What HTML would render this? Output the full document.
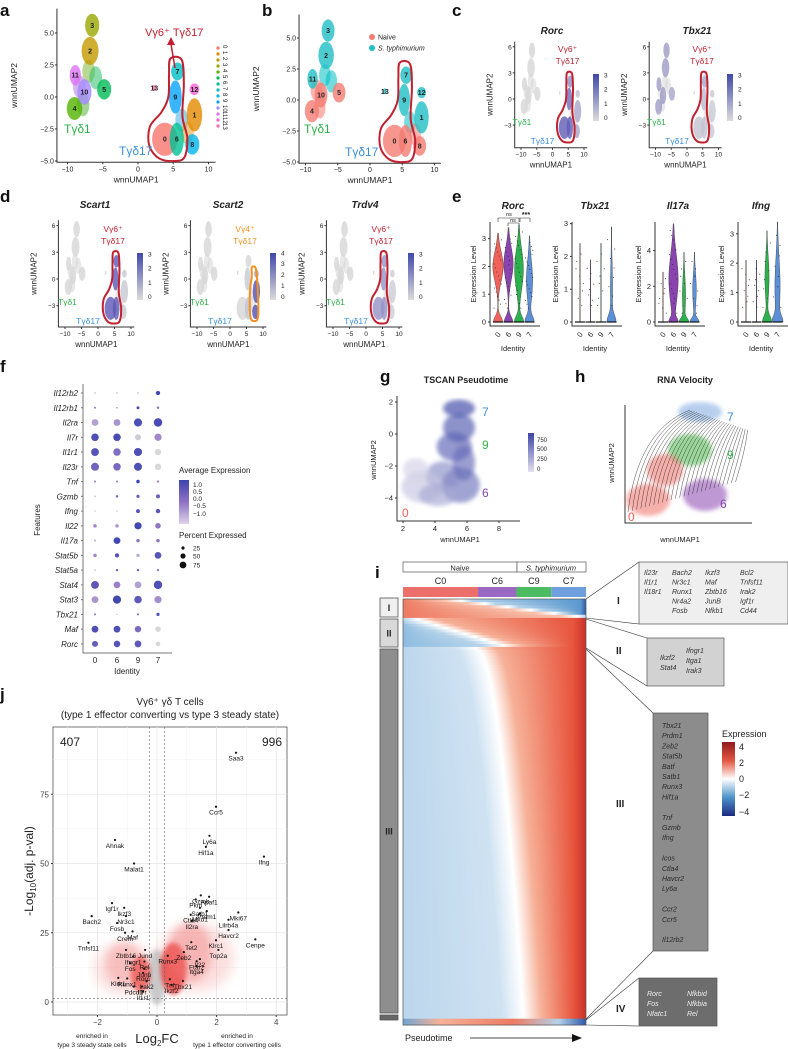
<!DOCTYPE html>
<html><head><meta charset="utf-8"><style>
body{margin:0;background:#fff}
svg{display:block;font-family:"Liberation Sans",Arial,sans-serif}
.it{font-style:italic}
</style></head><body>
<svg id="fig" width="788" height="1049" viewBox="0 0 788 1049" xmlns="http://www.w3.org/2000/svg">
<defs>
<linearGradient id="featGrad" x1="0" y1="1" x2="0" y2="0"><stop offset="0" stop-color="#dcdcdc"/><stop offset="1" stop-color="#3f48a8"/></linearGradient>
<linearGradient id="avgGrad" x1="0" y1="1" x2="0" y2="0"><stop offset="0" stop-color="#ddd3ea"/><stop offset="0.5" stop-color="#8f72c4"/><stop offset="1" stop-color="#3c45ad"/></linearGradient>
<linearGradient id="ptGrad" x1="0" y1="1" x2="0" y2="0"><stop offset="0" stop-color="#e4e0ee"/><stop offset="1" stop-color="#3b45a6"/></linearGradient>
<linearGradient id="expGrad" x1="0" y1="0" x2="0" y2="1"><stop offset="0" stop-color="#8e1b1e"/><stop offset="0.25" stop-color="#e4553f"/><stop offset="0.5" stop-color="#ffffff"/><stop offset="0.75" stop-color="#4d93c9"/><stop offset="1" stop-color="#1d2a80"/></linearGradient>
<filter id="blur2"><feGaussianBlur stdDeviation="2"/></filter>
<filter id="blur4"><feGaussianBlur stdDeviation="4"/></filter>
<filter id="blur6"><feGaussianBlur stdDeviation="6"/></filter>
</defs>
<g id="root"></g>
</svg>
<script>
const NS='http://www.w3.org/2000/svg';
const root=document.getElementById('root');
function el(tag,parent,attrs){const e=document.createElementNS(NS,tag);for(const k in attrs)e.setAttribute(k,attrs[k]);parent.appendChild(e);return e;}
function tx(parent,x,y,s,size,extra){const e=el('text',parent,Object.assign({x:x,y:y,'font-size':size,fill:'#222'},extra||{}));e.textContent=s;return e;}

// ---------------- UMAP data ----------------
const clusterIds=[0,1,2,3,4,5,6,7,8,9,10,11,12,13];
const clusterX=[3.8,8.0,-6.8,-6.5,-9.0,-4.8,5.5,5.6,7.7,5.3,-7.6,-8.9,8.0,2.3];
const clusterY=[-3.3,-1.4,3.6,5.6,-0.9,0.6,-3.3,2.0,-3.7,0.0,0.4,1.7,0.6,0.7];
const clusterRX=[1.8,1.1,1.2,1.0,1.1,1.0,1.0,0.9,1.0,0.9,1.0,0.8,0.7,0.25];
const clusterRY=[1.3,1.3,1.1,0.9,0.9,0.8,1.3,0.7,0.8,1.3,1.0,0.8,0.45,0.25];
const clusterColors=['#F8766D','#E38900','#C49A00','#99A800','#53B400','#00BC56','#00C094','#00BFC4','#00B6EB','#06A4FF','#A58AFF','#DF70F8','#FB61D7','#FF66A8'];
const clusterCond=[0,1,1,1,0,0,0,1,0,1,0,1,1,1];
const featRorc=[2.5,1.0,0,0,0,0,2.5,1.5,1.0,2.2,0,0,0.5,0];
const featTbx21=[0.4,0.3,1.2,1.2,1.2,1.0,0.4,1.0,0.3,0.6,1.2,1.2,0.3,0];
const featScart1=[2.6,0.3,0,0,0,0,2.6,2.6,0.3,2.6,0,0,0.3,0];
const featScart2=[0,2.8,0,0,0,0,0.4,0,2.8,0.3,0,0,1.2,0];
const featTrdv4=[1.4,0.2,0,0,0,0,1.4,1.4,0.2,1.4,0,0,0.2,0];
const vg6X=[4.6,6.2,6.5,6.3,7.0,6.6,5.2,3.0,1.6,1.7,3.3,4.3,4.4];
const vg6Y=[3.0,2.9,1.0,-1.5,-3.2,-4.7,-5.0,-4.8,-3.8,-2.3,-1.2,0.0,1.8];
const vg4X=[6.6,7.8,8.3,8.6,8.2,6.5,6.0,6.1,6.6];
const vg4Y=[1.3,1.2,-0.5,-3.5,-4.6,-4.6,-3.5,-1.2,0.3];
const bridgeX=[-7.0,-8.3,-6.0,-7.8,6.2,7.0];
const bridgeY=[2.0,0.8,1.5,-0.6,-1.8,-2.8];

function lerpColor(a,b,t){const pa=[1,3,5].map(i=>parseInt(a.substr(i,2),16)),pb=[1,3,5].map(i=>parseInt(b.substr(i,2),16));return 'rgb('+pa.map((v,i)=>Math.round(v+(pb[i]-v)*t)).join(',')+')';}
function smoothPath(pts){let d='';const n=pts.length;for(let i=0;i<n;i++){const p0=pts[(i-1+n)%n],p1=pts[i],p2=pts[(i+1)%n],p3=pts[(i+2)%n];if(i===0)d+='M'+p1[0]+','+p1[1];const c1=[p1[0]+(p2[0]-p0[0])/6,p1[1]+(p2[1]-p0[1])/6],c2=[p2[0]-(p3[0]-p1[0])/6,p2[1]-(p3[1]-p1[1])/6];d+='C'+c1+' '+c2+' '+p2;}return d+'Z';}

function drawUmap(cfg){
  const g=el('g',root,{});
  
  
  const X=v=>cfg.x0+v*cfg.sx, Y=v=>cfg.y0-v*cfg.sy;
  const axL=X(cfg.xmin), axB=Y(cfg.ymin), axT=Y(cfg.ymax);
  const ax=el('path',g,{d:`M${axL},${axT}V${axB}H${X(cfg.xmax)}`,stroke:'#333','stroke-width':1,fill:'none'});
  
  cfg.xt.forEach(v=>{el('line',g,{x1:X(v),x2:X(v),y1:axB,y2:axB+2,stroke:'#333'});tx(g,X(v),axB+9,String(v).replace('-','−'),cfg.fs,{'text-anchor':'middle'});});
  cfg.yt.forEach(v=>{el('line',g,{x1:axL-2,x2:axL,y1:Y(v),y2:Y(v),stroke:'#333'});tx(g,axL-3,Y(v)+2.5,(cfg.dec?v.toFixed(1):String(v)).replace('-','−'),cfg.fs,{'text-anchor':'end'});});
  const xl=tx(g,(axL+X(cfg.xmax))/2,axB+20,'wnnUMAP1',cfg.fs+1.5,{'text-anchor':'middle'});
  
  const yl=tx(g,0,0,'wnnUMAP2',cfg.fs+1.5,{'text-anchor':'middle',transform:`translate(${axL-cfg.ylo},${(axT+axB)/2}) rotate(-90)`});
  
  bridgeX.forEach((bx,i)=>{let c=cfg.mode==='cluster'?['#7fb83a','#b07ad8','#2fbf6a','#5bb33c','#3fb0e0','#e39a30'][i]:cfg.mode==='cond'?(i%2?'#F8766D':'#00BFC4'):'#d6d6d6';
    el('ellipse',g,{cx:X(bx),cy:Y(bridgeY[i]),rx:0.9*cfg.sx,ry:0.9*cfg.sy,fill:c,opacity:0.55});});
  clusterIds.forEach(i=>{
    let c;
    if(cfg.mode==='cluster')c=clusterColors[i];
    else if(cfg.mode==='cond')c=clusterCond[i]?'#1fbfc4':'#f47c72';
    else c=lerpColor('#d6d6d6','#4b45b0',Math.min(1,cfg.feat[i]/3));
    const e=el('ellipse',g,{cx:X(clusterX[i]),cy:Y(clusterY[i]),rx:clusterRX[i]*cfg.sx,ry:clusterRY[i]*cfg.sy,fill:c,opacity:0.8});
    
    
    if(cfg.nums){tx(g,X(clusterX[i]),Y(clusterY[i])+2.5,String(i),7,{'text-anchor':'middle','font-weight':'bold'});}
  });
  if(cfg.outline){const ox=cfg.outline==='vg4'?vg4X:vg6X, oy=cfg.outline==='vg4'?vg4Y:vg6Y;
    const p=el('path',g,{d:smoothPath(ox.map((v,i)=>[X(v),Y(oy[i])])),fill:'none',stroke:cfg.outline==='vg4'?'#f39220':'#c0202f','stroke-width':2});
    }
  return {g,X,Y};
}
function featLegend(x,y,h,labels){
  const g=el('g',root,{});
  
  el('rect',g,{x:x,y:y,width:6,height:h,fill:'url(#featGrad)'});
  labels.forEach((l,i)=>tx(g,x+11,y+h-i*h/(labels.length-0.7)-1,String(l),6.5));
}
function popLabels(u,x0,y0,top1,top2,topColor){
  const g=u.g;
  tx(g,x0+15,y0-47,top1,8.5,{'text-anchor':'middle',fill:topColor});
  tx(g,x0+15,y0-35,top2,8.5,{'text-anchor':'middle',fill:topColor});
  tx(g,x0-40,y0+26,'Tγδ1',8.5,{fill:'#2db34a'});
  tx(g,x0-10,y0+45,'Tγδ17',8.5,{'text-anchor':'middle',fill:'#3a8fd8'});
}

[['a',0,16],['b',262,16],['c',452,16],['d',0,202],['e',452,202],['f',0,372],['g',380,382],['h',575,382],['i',375,578],['j',0,700]].forEach(p=>{
  const t=tx(root,p[1],p[2],p[0],17,{'font-weight':'bold',fill:'#111'});
  
});

// Panel a
const ua=drawUmap({name:'umap-clusters',mode:'cluster',x0:138,sx:7.05,y0:97,sy:12.8,xmin:-11.5,xmax:11,ymin:-5.1,ymax:6.9,xt:[-10,-5,0,5,10],yt:[-5,-2.5,0,2.5,5],dec:true,fs:7,ylo:40,nums:true,outline:'vg6'});
tx(ua.g,64,133,'Tγδ1',12,{fill:'#2db34a'});
tx(ua.g,119,155,'Tγδ17',12,{fill:'#3a8fd8'});
tx(ua.g,145,36,'Vγ6⁺ Tγδ17',11,{fill:'#c0202f'});
el('line',ua.g,{x1:175,y1:68,x2:171,y2:44,stroke:'#c0202f','stroke-width':1.5});
el('path',ua.g,{d:'M167,45 L171,37 L175,45Z',fill:'#c0202f'});
clusterIds.forEach(i=>{el('circle',ua.g,{cx:218,cy:48+i*6,r:1.6,fill:clusterColors[i]});tx(ua.g,222,50+i*6,String(i),6,{transform:`rotate(90 225 ${48+i*6})`});});

// Panel b
const ub=drawUmap({name:'umap-condition',mode:'cond',x0:370,sx:6.45,y0:100,sy:12.4,xmin:-11,xmax:11,ymin:-5.1,ymax:6.9,xt:[-10,-5,0,5,10],yt:[-5,-2.5,0,2.5,5],dec:true,fs:7,ylo:40,nums:true,outline:'vg6'});
tx(ub.g,304,133,'Tγδ1',12,{fill:'#2db34a'});
tx(ub.g,345,156,'Tγδ17',12,{fill:'#3a8fd8'});
el('circle',ub.g,{cx:372,cy:37,r:3,fill:'#f47c72'});tx(ub.g,378,39.5,'Naive',7);
el('circle',ub.g,{cx:372,cy:48,r:3,fill:'#1fbfc4'});tx(ub.g,378,50.5,'S. typhimurium',7,{class:'it'});

// Panel c
const uc1=drawUmap({name:'feature-rorc',mode:'feat',feat:featRorc,x0:552.5,sx:3.15,y0:99,sy:8.7,xmin:-12,xmax:11,ymin:-5.6,ymax:6.6,xt:[-10,-5,0,5,10],yt:[-3,0,3,6],fs:6.5,ylo:22,outline:'vg6'});
popLabels(uc1,552.5,99,'Vγ6⁺','Tγδ17','#c0202f');
tx(root,552,34,'Rorc',10,{'font-weight':'bold',class:'it','text-anchor':'middle'});
featLegend(593,74,47,[0,1,2,3]);
const uc2=drawUmap({name:'feature-tbx21',mode:'feat',feat:featTbx21,x0:687,sx:3.15,y0:99,sy:8.7,xmin:-12,xmax:11,ymin:-5.6,ymax:6.6,xt:[-10,-5,0,5,10],yt:[-3,0,3,6],fs:6.5,ylo:22,outline:'vg6'});
popLabels(uc2,687,99,'Vγ6⁺','Tγδ17','#c0202f');
tx(root,697,34,'Tbx21',10,{'font-weight':'bold',class:'it','text-anchor':'middle'});
featLegend(727,74,47,[0,1,2,3]);

// Panel d
const ud1=drawUmap({name:'feature-scart1',mode:'feat',feat:featScart1,x0:98,sx:3.3,y0:279,sy:8.9,xmin:-12,xmax:11,ymin:-5.4,ymax:6.6,xt:[-10,-5,0,5,10],yt:[-3,0,3,6],fs:6.5,ylo:22,outline:'vg6'});
popLabels(ud1,98,279,'Vγ6⁺','Tγδ17','#c0202f');
tx(root,95,208,'Scart1',10,{'font-weight':'bold',class:'it','text-anchor':'middle'});
featLegend(137,253,47,[0,1,2,3]);
const ud2=drawUmap({name:'feature-scart2',mode:'feat',feat:featScart2,x0:230,sx:3.3,y0:279,sy:8.9,xmin:-12,xmax:11,ymin:-5.4,ymax:6.6,xt:[-10,-5,0,5,10],yt:[-3,0,3,6],fs:6.5,ylo:22,outline:'vg4'});
popLabels(ud2,230,279,'Vγ4⁺','Tγδ17','#f39220');
tx(root,228,208,'Scart2',10,{'font-weight':'bold',class:'it','text-anchor':'middle'});
featLegend(270,253,47,[0,1,2,3,4]);
const ud3=drawUmap({name:'feature-trdv4',mode:'feat',feat:featTrdv4,x0:366,sx:3.3,y0:279,sy:8.9,xmin:-12,xmax:11,ymin:-5.4,ymax:6.6,xt:[-10,-5,0,5,10],yt:[-3,0,3,6],fs:6.5,ylo:22,outline:'vg6'});
popLabels(ud3,366,279,'Vγ6⁺','Tγδ17','#c0202f');
tx(root,365,208,'Trdv4',10,{'font-weight':'bold',class:'it','text-anchor':'middle'});
featLegend(408,253,47,[0,1,2,3]);

// ---------------- Panel e violins ----------------
const violinGenes=['Rorc','Tbx21','Il17a','Ifng'];
const violinIdents=['0','6','9','7'];
const violinMax=[[3.2,3.4,3.5,3.1],[2.4,1.9,2.4,2.9],[2.8,5.5,3.9,3.9],[2.1,2.1,3.1,3.4]];
const violinBulk=[[2.0,2.1,1.9,1.5],[1.6,1.2,1.3,1.0],[1.8,2.4,1.5,1.8],[1.5,1.5,1.5,1.2]];
const violinBodyW=[[1.0,0.9,0.85,0.6],[0,0,0,0.2],[0,0.9,0.3,0.35],[0,0,0.4,0.5]];
const violinZeroW=[[0.9,0.85,0.9,0.85],[0,0,0,0.8],[0,0.8,0.85,0.85],[0,0,0.85,0.85]];
const violinTicks=[[0,1,2,3],[0,1,2,3],[0,2,4],[0,1,2,3]];
const violinTop=[3.6,3.05,5.6,3.4];
const violinColors=['#f0625a','#8a44b0','#2bb24c','#5b8fd6'];
const violinAxL=[490,572,655,738];
violinGenes.forEach((gn,gi)=>{
  const g=el('g',root,{});
  
  
  const axL=violinAxL[gi], y0=322, ppu=(y0-222)/violinTop[gi];
  const Y=v=>y0-v*ppu;
  el('path',g,{d:`M${axL},222V326H${axL+50}`,stroke:'#333',fill:'none'});
  violinTicks[gi].forEach(v=>{el('line',g,{x1:axL-2,x2:axL,y1:Y(v),y2:Y(v),stroke:'#333'});tx(g,axL-4,Y(v)+2.5,String(v),7.5,{'text-anchor':'end'});});
  tx(g,axL+23,209,gn,10,{'font-weight':'bold',class:'it','text-anchor':'middle'});
  tx(g,0,0,'Expression Level',7.5,{'text-anchor':'middle',transform:`translate(${axL-14},274) rotate(-90)`});
  tx(g,axL+23,351,'Identity',7.5,{'text-anchor':'middle'});
  violinIdents.forEach((id,k)=>{
    const cx=axL+8+k*10.5, mx=violinMax[gi][k], b=violinBulk[gi][k], bw=violinBodyW[gi][k], zw=violinZeroW[gi][k];
    const left=[],right=[];const N=30;
    for(let s=0;s<=N;s++){const v=mx*s/N;const spread=Math.max(0.4,(mx-b)/1.6);
      let w=zw*Math.exp(-Math.pow(v/0.28,2))+bw*Math.exp(-Math.pow((v-b)/spread,2));w=Math.max(w,0.05)*5.2;
      left.push([cx-w,Y(v)]);right.push([cx+w,Y(v)]);}
    const d='M'+right.map(p=>p.join(',')).join('L')+'L'+left.reverse().map(p=>p.join(',')).join('L')+'Z';
    const vp=el('path',g,{d:d,fill:violinColors[k],stroke:'#333','stroke-width':0.4});
    
    
    el('line',g,{x1:cx-5,x2:cx+5,y1:y0,y2:y0,stroke:'#111','stroke-width':1.2});
    const cnt=bw>0.5?18:8;
    for(let j=0;j<cnt;j++){const fr=((j*37+k*11+gi*5)%cnt)/cnt;const v=0.5+fr*(mx-0.6);const dx=(((j*53+k*7)%11)/11-0.5)*8;
      el('circle',g,{cx:cx+dx,cy:Y(v),r:0.5,fill:'#222'});}
    tx(g,0,0,id,7.5,{transform:`translate(${cx+2},${336}) rotate(-55)`,'text-anchor':'middle'});
  });
});
(function(){const g=el('g',root,{});
 el('path',g,{d:'M498,222V218H519V222',stroke:'#333',fill:'none','stroke-width':0.6});tx(g,509,216,'ns',5.5,{'text-anchor':'middle'});
 el('path',g,{d:'M508,226V223H519V226',stroke:'#333',fill:'none','stroke-width':0.6});tx(g,513,222,'ns',5.5,{'text-anchor':'middle'});
 el('path',g,{d:'M520,222V218H530V222',stroke:'#333',fill:'none','stroke-width':0.6});tx(g,526,217,'***',7,{'text-anchor':'middle','font-weight':'bold'});})();

// ---------------- Panel f dot plot ----------------
const dotGenes=['Il12rb2','Il12rb1','Il2ra','Il7r','Il1r1','Il23r','Tnf','Gzmb','Ifng','Il22','Il17a','Stat5b','Stat5a','Stat4','Stat3','Tbx21','Maf','Rorc'];
const dotIdents=['0','6','9','7'];
const dotPct=[[3,3,3,18],[4,3,8,6],[45,45,65,70],[55,55,35,50],[60,55,65,40],[62,55,62,40],[4,4,12,6],[3,6,10,15],[2,2,15,18],[12,12,50,30],[4,45,12,12],[12,18,10,45],[3,5,5,5],[60,45,45,70],[45,65,55,50],[4,1,4,10],[45,45,40,30],[35,42,45,20]];
const dotAvg=[[-1,-1,-1,1.2],[0,-0.5,1.2,0.2],[-0.6,-0.4,1.0,1.1],[1.0,1.1,-1.2,-0.2],[0.9,0.3,1.0,-1.4],[0.5,0.4,1.0,-1.4],[0,0,1.3,-0.2],[-1,0.5,0.7,0.7],[-1,-1,0.9,0.9],[-0.2,-0.4,1.2,0.1],[-0.8,1.2,0.1,0.1],[-0.2,0.9,-0.7,0.9],[-1,0.8,0.8,0.2],[0.8,-0.1,-0.6,1.0],[-0.4,1.2,0.8,-0.3],[0.2,-1,0.5,1.0],[1.0,1.0,0.4,-1.4],[0.7,0.9,0.8,-1.4]];
(function(){
 const g=el('g',root,{});
 const colX=[95,117,138,158], rowY=i=>393+i*14.76;
 el('path',g,{d:'M83,384V653H172',stroke:'#777',fill:'none'});
 dotGenes.forEach((gn,i)=>{tx(g,78,rowY(i)+3,gn,8,{'text-anchor':'end',class:'it'});el('line',g,{x1:81,x2:83,y1:rowY(i),y2:rowY(i),stroke:'#777'});
  dotIdents.forEach((id,k)=>{const a=dotAvg[i][k];const t=Math.max(0,Math.min(1,(a+1.4)/2.7));
   const c=t<0.5?lerpColor('#d8d8d8','#9a7cc8',t*2):lerpColor('#9a7cc8','#3a44b0',(t-0.5)*2);
   const d=el('circle',g,{cx:colX[k],cy:rowY(i),r:Math.max(0.6,Math.sqrt(dotPct[i][k]/75)*4.4),fill:c});
   
   });});
 dotIdents.forEach((id,k)=>{tx(g,colX[k],663,id,8,{'text-anchor':'middle'});});
 tx(g,127,674,'Identity',8,{'text-anchor':'middle'});
 tx(g,0,0,'Features',8,{'text-anchor':'middle',transform:'translate(40,520) rotate(-90)'});
 tx(g,179,473,'Average Expression',8);
 el('rect',g,{x:179,y:480,width:10,height:44,fill:'url(#avgGrad)'});
 [['1.0',487],['0.5',494],['0.0',501],['−0.5',508],['−1.0',516]].forEach(l=>tx(g,193,l[1],l[0],6.5));
 tx(g,179,538,'Percent Expressed',8);
 [['25',548,1.6],['50',556,2.6],['75',565,3.4]].forEach(l=>{el('circle',g,{cx:183,cy:l[1],r:l[2],fill:'#111'});tx(g,193,l[1]+2.5,l[0],6.5);});
})();

// ---------------- Panel g TSCAN ----------------
const tscanBlobX=[5.5,5.5,5.2,5.6,4.5,3.2,2.8,5.8,4.2];
const tscanBlobY=[1.6,0.4,-0.8,-3.2,-2.6,-3.3,-2.2,-1.8,-3.8];
const tscanBlobT=[800,700,650,560,430,150,80,600,300];
const tscanRX=[1.0,1.0,1.1,1.2,1.1,1.3,0.8,0.7,1.2];
const tscanRY=[0.55,0.9,0.9,1.1,0.9,1.0,0.7,1.1,0.7];
(function(){
 const g=el('g',root,{});
 const X=v=>403+(v-2)*16, Y=v=>434-v*16;
 el('path',g,{d:'M397,396V521H520',stroke:'#333',fill:'none'});
 [2,4,6,8].forEach(v=>{el('line',g,{x1:X(v),x2:X(v),y1:521,y2:523,stroke:'#333'});tx(g,X(v),531,String(v),7.5,{'text-anchor':'middle'});});
 [2,0,-2,-4].forEach(v=>{el('line',g,{x1:395,x2:397,y1:Y(v),y2:Y(v),stroke:'#333'});tx(g,393,Y(v)+2.5,String(v).replace('-','−'),7.5,{'text-anchor':'end'});});
 tx(g,466,383,'TSCAN Pseudotime',9,{'font-weight':'bold','text-anchor':'middle'});
 tx(g,460,542,'wnnUMAP1',7.5,{'text-anchor':'middle'});
 tx(g,0,0,'wnnUMAP2',7.5,{'text-anchor':'middle',transform:'translate(376,460) rotate(-90)'});
 tscanBlobX.forEach((bx,i)=>{const e=el('ellipse',g,{cx:X(bx),cy:Y(tscanBlobY[i]),rx:tscanRX[i]*16,ry:tscanRY[i]*16,fill:lerpColor('#e6e2ee','#3b45a6',tscanBlobT[i]/800),opacity:0.65,filter:'url(#blur2)'});
  });
 el('rect',g,{x:528,y:433,width:6,height:39,fill:'url(#ptGrad)'});
 [['750',442],['500',451],['250',461],['0',471]].forEach(l=>tx(g,537,l[1],l[0],6));
 tx(g,482,416,'7',12,{fill:'#3a8fd8'});tx(g,482,449,'9',12,{fill:'#2db34a'});tx(g,482,497,'6',12,{fill:'#8a44b0'});tx(g,402,517,'0',12,{fill:'#f0625a'});
})();

// ---------------- Panel h RNA velocity ----------------
const veloBlobX=[700,690,705,648,665];
const veloBlobY=[412,450,495,500,470];
const veloColors=['#7ea8e0','#4cb84c','#8a44b0','#f07068','#f07068'];
(function(){
 const g=el('g',root,{});
 el('path',g,{d:'M625,405V523H752',stroke:'#333',fill:'none'});
 tx(g,685,383,'RNA Velocity',9,{'font-weight':'bold','text-anchor':'middle'});
 tx(g,680,542,'wnnUMAP1',7.5,{'text-anchor':'middle'});
 tx(g,0,0,'wnnUMAP2',7.5,{'text-anchor':'middle',transform:'translate(614,463) rotate(-90)'});
 veloBlobX.forEach((bx,i)=>el('ellipse',g,{cx:bx,cy:veloBlobY[i],rx:i===4?18:22,ry:i===0?10:16,fill:veloColors[i],opacity:0.55,filter:'url(#blur2)'}));
 for(let k=0;k<26;k++){const sx=628+k*4.3, sy=512-k*1.2; const ex=690+k*2.3, ey=410+k*0.8;
   el('path',g,{d:`M${sx},${sy} Q${sx+10},${ey+20} ${ex},${ey}`,stroke:'#222','stroke-width':0.5,fill:'none',opacity:0.8});}
 tx(g,727,421,'7',12,{fill:'#3a8fd8'});tx(g,727,459,'9',12,{fill:'#2db34a'});tx(g,720,508,'6',12,{fill:'#8a44b0'});tx(g,628,521,'0',12,{fill:'#f0625a'});
})();

// ---------------- Panel i heatmap ----------------
const segLabels=['I','II','III','IV'];
const segGeneCount=[30,46,590,10];
const segDir=[-1,1,1,-1];
const segTransTop=[0.32,0.08,0.4,0.5];
const segTransBottom=[0.95,0.55,0.66,0.6];
const clusterBarNames=['C0','C6','C9','C7'];
const clusterBarFrac=[0.41,0.21,0.19,0.19];
const clusterBarColors=['#ec6f6b','#9a69c2','#4dbb62','#6f9fdc'];
(function(){
 const g=el('g',root,{});
 const hx=403,hw=183,hy=599,hh=426;const defs=document.querySelector('defs');
 el('rect',g,{x:hx,y:562,width:114,height:10,fill:'#fff',stroke:'#555','stroke-width':0.7});
 el('rect',g,{x:517,y:562,width:69,height:10,fill:'#fff',stroke:'#555','stroke-width':0.7});
 tx(g,460,570.5,'Naive',7.5,{'text-anchor':'middle'});tx(g,551,570.5,'S. typhimurium',7.5,{'text-anchor':'middle',class:'it'});
 let cx=hx;clusterBarNames.forEach((n,i)=>{const w=clusterBarFrac[i]*hw;const r=el('rect',g,{x:cx,y:587,width:w,height:10,fill:clusterBarColors[i]});
   tx(g,cx+w/2,584,n,9,{'text-anchor':'middle'});cx+=w;});
 const total=segGeneCount.reduce((a,b)=>a+b,0);let y=hy;let gid=0;
 segGeneCount.forEach((cnt,s)=>{const h=cnt/total*hh;const nr=Math.max(2,Math.round(h/3));const rh=h/nr;
   for(let r=0;r<nr;r++){const f=r/(nr-1);const ff=s===2?Math.sqrt(f):f;const t=segTransTop[s]+(segTransBottom[s]-segTransTop[s])*ff;
     const id='hg'+(gid++);const lg=el('linearGradient',defs,{id:id});
     let stops;
     if(s===3)stops=[[0,'#6fa5d3'],[0.2,'#f6b198'],[0.6,'#ee7a62'],[0.85,'#b3d2ea'],[1,'#2e5aa8']];
     else if(segDir[s]===1)stops=[[0,s===1?'#8fbde0':'#bcd6ec'],[Math.max(0,t-0.12),s===1?'#b5d3ea':'#cfe2f2'],[t,'#ffffff'],[Math.min(1,t+0.1),'#f6b198'],[0.93,'#e8553e'],[1,'#c9302a']];
     else stops=[[0,'#ee7a62'],[Math.max(0,t-0.1),'#f8c0aa'],[t,'#ffffff'],[Math.min(1,t+0.06),'#b3d2ea'],[0.97,'#5c98cf'],[1,'#2e5aa8']];
     stops.forEach(st=>el('stop',lg,{offset:st[0],'stop-color':st[1]}));
     el('rect',g,{x:hx,y:y+r*rh,width:hw,height:rh+0.4,fill:`url(#${id})`});}
   y+=h;});
 el('rect',g,{x:hx,y:hy,width:hw,height:hh,fill:'none',stroke:'#555','stroke-width':0.7});
 [[598,19,'#f0f0f0','I'],[619,28,'#d9d9d9','II'],[649,364,'#8e8e8e','III'],[1015,5,'#666','IV']].forEach((b,i)=>{
   const r=el('rect',g,{x:380,y:b[0],width:18,height:b[1],fill:b[2],stroke:'#555','stroke-width':0.8});
   
   if(i<3)tx(g,389,b[0]+b[1]/2+3.5,b[3],9,{'text-anchor':'middle','font-weight':'bold',fill:'#222'});});
 tx(g,405,1041,'Pseudotime',9);
 el('line',g,{x1:470,y1:1038,x2:576,y2:1038,stroke:'#111','stroke-width':0.8});
 el('path',g,{d:'M572,1034L582,1038L572,1042Z',fill:'#111'});
})();
const boxGenes1=[['Il23r','Il1r1','Il18r1'],['Bach2','Nr3c1','Runx1','Nr4a2','Fosb'],['Ikzf3','Maf','Zbtb16','JunB','Nfkb1'],['Bcl2','Tnfsf11','Irak2','Igf1r','Cd44']];
const boxGenes3=['Tbx21','Prdm1','Zeb2','Stat5b','Batf','Satb1','Runx3','Hif1a','','Tnf','Gzmb','Ifng','','Icos','Ctla4','Havcr2','Ly6a','','Ccr2','Ccr5','','Il12rb2'];
(function(){
 const g=el('g',root,{});
 const L=(d)=>el('path',g,{d:d,stroke:'#333','stroke-width':0.6,fill:'none'});
 L('M586,599L639,562');L('M586,618L639,624');L('M586,619L647,638');L('M586,648L647,686');L('M586,649L653,713');L('M586,1019L653,951');L('M586,1020L639,978');L('M586,1025L639,1026');
 el('rect',g,{x:639,y:562,width:149,height:62,fill:'#efefef',stroke:'#555','stroke-width':0.7});
 const cols=[644,672,705,740];
 boxGenes1.forEach((c,i)=>c.forEach((gn,j)=>tx(g,cols[i],575+j*9.5,gn,7,{class:'it',fill:'#333'})));
 tx(g,617,604,'I',10,{'font-weight':'bold'});
 el('rect',g,{x:647,y:638,width:77,height:48,fill:'#d2d2d2',stroke:'#555','stroke-width':0.7});
 tx(g,660,660,'Ikzf2',7,{class:'it',fill:'#333'});tx(g,660,670,'Stat4',7,{class:'it',fill:'#333'});
 tx(g,686,653,'Ifngr1',7,{class:'it',fill:'#333'});tx(g,686,663,'Itga1',7,{class:'it',fill:'#333'});tx(g,686,673,'Irak3',7,{class:'it',fill:'#333'});
 tx(g,616,654,'II',10,{'font-weight':'bold'});
 el('rect',g,{x:653,y:713,width:55,height:238,fill:'#8c8c8c',stroke:'#555','stroke-width':0.7});
 boxGenes3.forEach((gn,j)=>{if(gn)tx(g,662,728+j*10.2,gn,7,{class:'it',fill:'#2a2a2a'});});
 tx(g,616,807,'III',10,{'font-weight':'bold'});
 el('rect',g,{x:639,y:978,width:78,height:48,fill:'#6d6d6d',stroke:'#555','stroke-width':0.7});
 [['Rorc',996],['Fos',1006],['Nfatc1',1016]].forEach(a=>tx(g,647,a[1],a[0],7,{class:'it',fill:'#eee'}));
 [['Nfkbid',996],['Nfkbia',1006],['Rel',1016]].forEach(a=>tx(g,687,a[1],a[0],7,{class:'it',fill:'#eee'}));
 tx(g,616,1012,'IV',10,{'font-weight':'bold'});
 const lg=el('g',root,{});
 tx(lg,722,737,'Expression',9);
 el('rect',lg,{x:722,y:742,width:13,height:74,fill:'url(#expGrad)'});
 [['4',750],['2',766],['0',782],['−2',798],['−4',815]].forEach(l=>tx(lg,739,l[1],l[0],9));
})();

// ---------------- Panel j volcano ----------------
const volGenes=['Saa3','Ccr5','Ly6a','Hif1a','Ifng','Ahnak','Malat1','Igf1r','Ikzf3','Bach2','Nr3c1','Fosb','Crem','Maf','Tnfsf11','Zbtb16','Jund','Ifngr1','Fos','Rel','Junb','Rorc','Klrk1','Runx1','Irak2','Il7r','Pdcd1','Il1r1','Gzmb','Apaf1','Pkm','Satb1','Mxd1','Ctla4','Prdm1','Mki67','Il2ra','Lilrb4a','Havcr2','Cenpe','Tet2','Klrc1','Top2a','Zeb2','Il22','Runx3','Ftar2','Itga4','Tnf','Tbx21','Ikzf2'];
const volFC=[2.65,1.98,1.76,1.64,3.59,-1.41,-0.77,-1.51,-1.1,-2.19,-1.04,-1.34,-1.07,-0.82,-2.3,-1.04,-0.4,-0.8,-0.9,-0.42,-0.43,-0.47,-1.3,-1.0,-0.35,-0.5,-0.78,-0.47,1.47,1.75,1.3,1.44,1.44,1.13,1.67,2.73,1.17,2.4,2.4,3.3,1.15,1.98,2.06,0.9,1.44,0.36,1.33,1.33,0.43,0.87,0.49];
const volP=[90,70.5,60,56,52.5,58.5,50,35.7,34,31,31,28.5,25,25.5,21.4,18.8,18.8,16.4,14,14.6,12,10.5,8.7,8.5,7.5,5.6,5.6,3.7,38.5,38,37,34,32,31.5,32.8,32.3,29.3,29.7,26,22.6,21.6,22.3,18.8,18,15.5,16.7,14.7,13,8.2,7.6,6.2];
const volXTicks=[-2,0,2,4];
const volYTicks=[0,25,50,75];
(function(){
 const g=el('g',root,{});
 const X=v=>157+29.8*v, Y=v=>1002-2.77*v;
 tx(g,170,705,'Vγ6⁺ γδ T cells',10,{'text-anchor':'middle'});
 tx(g,170,718,'(type 1 effector converting vs type 3 steady state)',10,{'text-anchor':'middle'});
 el('rect',g,{x:53,y:727,width:234,height:288,fill:'#fff',stroke:'#555','stroke-width':0.8});
 [-3,-1,1,3].forEach(v=>el('line',g,{x1:X(v),x2:X(v),y1:727,y2:1015,stroke:'#f2f2f2','stroke-width':0.6}));
 [12.5,37.5,62.5,87.5].forEach(v=>el('line',g,{x1:53,x2:287,y1:Y(v),y2:Y(v),stroke:'#f2f2f2','stroke-width':0.6}));
 volXTicks.forEach(v=>{el('line',g,{x1:X(v),x2:X(v),y1:727,y2:1015,stroke:'#e6e6e6','stroke-width':0.8});el('line',g,{x1:X(v),x2:X(v),y1:1015,y2:1017,stroke:'#333'});tx(g,X(v),1025,String(v).replace('-','−'),8,{'text-anchor':'middle',fill:'#444'});});
 volYTicks.forEach(v=>{el('line',g,{x1:53,x2:287,y1:Y(v),y2:Y(v),stroke:'#e6e6e6','stroke-width':0.8});el('line',g,{x1:51,x2:53,y1:Y(v),y2:Y(v),stroke:'#333'});tx(g,49,Y(v)+3,String(v),8,{'text-anchor':'end',fill:'#444'});});
 el('ellipse',g,{cx:X(1.3),cy:Y(16),rx:38,ry:34,fill:'#f4a0a0',opacity:0.35,filter:'url(#blur6)'});
 el('ellipse',g,{cx:X(-1.1),cy:Y(12),rx:30,ry:26,fill:'#f4a0a0',opacity:0.35,filter:'url(#blur6)'});
 el('ellipse',g,{cx:X(0),cy:Y(9),rx:9,ry:28,fill:'#bdbdbd',opacity:0.8,filter:'url(#blur2)'});
 el('ellipse',g,{cx:X(0.55),cy:Y(12),rx:13,ry:26,fill:'#e8332f',opacity:0.75,filter:'url(#blur2)'});
 el('ellipse',g,{cx:X(1.1),cy:Y(18),rx:22,ry:30,fill:'#f07a78',opacity:0.4,filter:'url(#blur4)'});
 el('ellipse',g,{cx:X(-0.55),cy:Y(10),rx:10,ry:18,fill:'#e8332f',opacity:0.65,filter:'url(#blur2)'});
 el('ellipse',g,{cx:X(-1.1),cy:Y(14),rx:18,ry:22,fill:'#f07a78',opacity:0.3,filter:'url(#blur4)'});
 el('line',g,{x1:X(-0.25),x2:X(-0.25),y1:727,y2:1015,stroke:'#666','stroke-dasharray':'2,2','stroke-width':0.6});
 el('line',g,{x1:X(0.25),x2:X(0.25),y1:727,y2:1015,stroke:'#666','stroke-dasharray':'2,2','stroke-width':0.6});
 el('line',g,{x1:53,x2:287,y1:Y(1.3),y2:Y(1.3),stroke:'#666','stroke-dasharray':'2,2','stroke-width':0.6});
 volGenes.forEach((gn,i)=>{const px=X(volFC[i]),py=Y(volP[i]);
  const d=el('circle',g,{cx:px,cy:py,r:1.1,fill:'#111'});
  
  
  tx(g,px,py+8,gn,6.5,{'text-anchor':'middle',fill:'#111'});});
 tx(g,60,746,'407',12);tx(g,282,746,'996',12,{'text-anchor':'end'});
 const xt=el('text',g,{x:157,y:1043,'font-size':13,'text-anchor':'middle',fill:'#222'});xt.innerHTML='Log<tspan font-size="8" dy="3">2</tspan><tspan dy="-3">FC</tspan>';
 
 const yt=el('text',g,{'font-size':12,'text-anchor':'middle',fill:'#222',transform:'translate(33,871) rotate(-90)'});yt.innerHTML='-Log<tspan font-size="8" dy="3">10</tspan><tspan dy="-3">(adj. p-val)</tspan>';
 
 tx(g,92,1038,'enriched in',6.5,{'text-anchor':'middle'});tx(g,92,1047,'type 3 steady state cells',6.5,{'text-anchor':'middle'});
 tx(g,237,1038,'enriched in',6.5,{'text-anchor':'middle'});tx(g,237,1047,'type 1 effector converting cells',6.5,{'text-anchor':'middle'});
})();
</script>
</body></html>
